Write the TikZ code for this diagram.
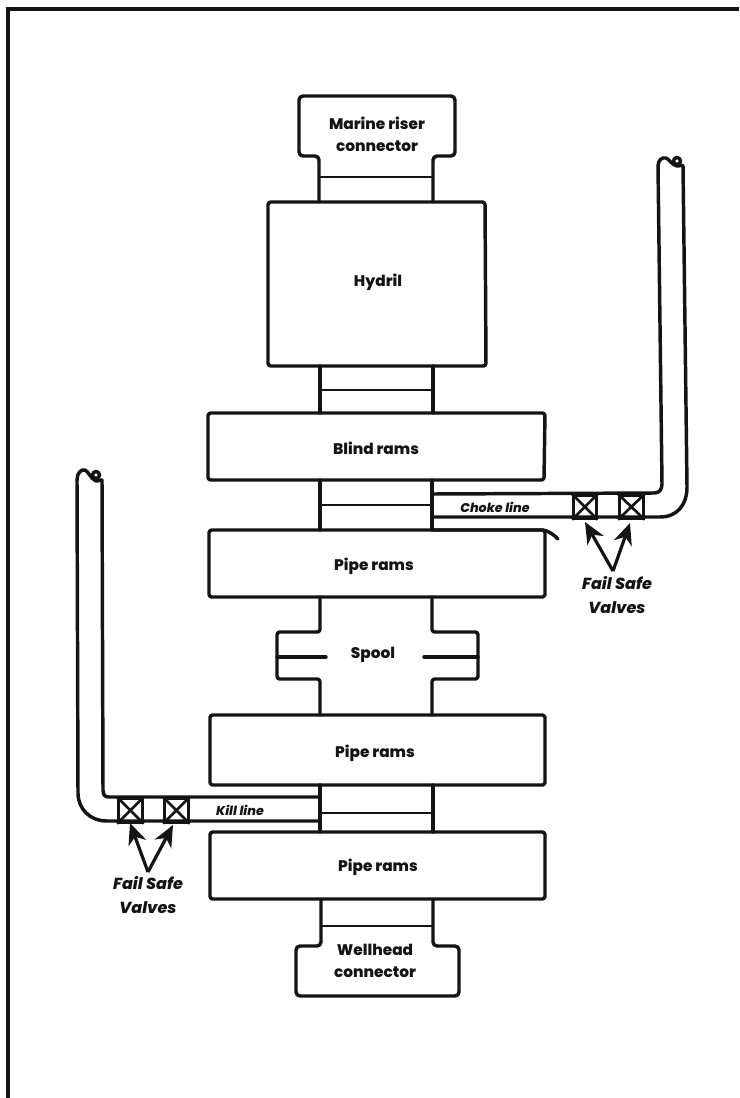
\documentclass[tikz,border=0pt]{standalone}
\usepackage{fontspec}
\setmainfont{Poppins}[BoldFont=Poppins ExtraBold,ItalicFont=Poppins Italic,BoldItalicFont=Poppins ExtraBold Italic]
\usetikzlibrary{arrows.meta}
\tikzset{
  ln/.style={line width=2.6pt,line join=round,line cap=round,black!92},
  thinln/.style={line width=2pt,line join=round,black!92},
  lab/.style={font=\bfseries\fontsize{11.5}{16.5}\selectfont,align=center,inner sep=0pt,text=black!92},
  smalllab/.style={font=\bfseries\itshape\fontsize{9.5}{12}\selectfont,inner sep=0pt,text=black!92},
  fslab/.style={font=\bfseries\itshape\fontsize{12}{18}\selectfont,align=center,inner sep=0pt,text=black!92},
  arr/.style={line width=2.4pt,-{Stealth[length=16pt,width=14pt,inset=5pt]},black!92},
  valvebox/.style={draw=black!92,line width=2pt,inner sep=0pt,anchor=north west}
}
\begin{document}
\begin{tikzpicture}[x=0.75pt,y=-0.75pt]
\useasboundingbox (0,0) rectangle (739,1098);
% frame
\draw[line width=2.6pt,black!92] (8,1098) -- (8,9) -- (739,9);
% marine riser connector
\draw[ln,rounded corners=3pt] (319,202) -- (319,156) -- (299,156) -- (299,96) -- (455,96) -- (455,156) -- (433,156) -- (433,202);
\draw[thinln] (319,177) -- (433,177);
\node[lab] (mrc) at (377,134) {Marine riser\\connector};
% hydril
\draw[ln,rounded corners=2pt] (268,202) -- (485,202) -- (486,366) -- (268,366) -- cycle;
\node[lab] (hy) at (378,282) {Hydril};
% connector hydril - blind rams
\draw[ln] (320,366) -- (320,413);
\draw[ln] (433,366) -- (433,413);
\draw[thinln] (320,390) -- (433,390);
% blind rams
\draw[ln,rounded corners=2pt] (208,413) -- (545,413) -- (544,480) -- (208,480) -- cycle;
\node[lab] (br) at (376,448) {Blind rams};
% connector
\draw[ln] (320,480) -- (320,530);
\draw[ln] (432,480) -- (432,530);
\draw[thinln] (320,505) -- (432,505);
% upper pipe rams
\draw[ln,rounded corners=2pt] (209,530) -- (545,530) -- (545,597) -- (209,597) -- cycle;
\node[lab] (pr1) at (374,566) {Pipe rams};
% spool
\draw[ln,rounded corners=2pt] (320,597) -- (320,632) -- (277,632) -- (277,679) -- (320,679) -- (320,715);
\draw[ln,rounded corners=2pt] (432,597) -- (432,632) -- (478,632) -- (478,679) -- (432,679) -- (432,715);
\draw[ln] (277,657) -- (326,657);
\draw[ln] (424,657) -- (478,657);
\node[lab] (sp) at (373,655) {Spool};
% pipe rams 2
\draw[ln,rounded corners=2pt] (210,715) -- (545,715) -- (545,785) -- (210,785) -- cycle;
\node[lab] (pr2) at (375,753) {Pipe rams};
% connector
\draw[ln] (320,785) -- (320,832);
\draw[ln] (433,785) -- (433,832);
\draw[thinln] (320,813) -- (433,813);
% pipe rams 3
\draw[ln,rounded corners=2pt] (210,832) -- (545,832) -- (545,899) -- (210,899) -- cycle;
\node[lab] (pr3) at (378,867) {Pipe rams};
% wellhead
\draw[ln,rounded corners=3pt] (321,899) -- (321,946) -- (296,946) -- (296,996) -- (459,996) -- (459,946) -- (433,946) -- (433,899);
\draw[thinln] (321,926) -- (433,926);
\node[lab] (wc) at (375,961) {Wellhead\\connector};
% choke line
\draw[ln] (433,494) -- (654,493) .. controls (659,493) and (662,490) .. (662,484) -- (658,166);
\draw[ln] (433,517) -- (660,517) .. controls (677,517) and (687,505) .. (687,487) -- (683,166);
\draw[ln] (658,166) .. controls (658,160) and (662,157) .. (666,158) .. controls (669,159) and (672,165) .. (677,166) .. controls (681,166) and (683,164) .. (683,166);
\draw[ln] (677,161) circle[radius=3.5];
\draw[ln] (433,530) -- (543,530) .. controls (549,531) and (554,535) .. (558,539);
\node[smalllab] (ch) at (495,507) {Choke line};
\node[valvebox,minimum width=17.25pt,minimum height=17.25pt] (v1) at (572,494) {};
\node[valvebox,minimum width=18pt,minimum height=17.25pt] (v2) at (618,494) {};
\draw[thinln] (v1.north west) -- (v1.south east) (v1.north east) -- (v1.south west);
\draw[thinln] (v2.north west) -- (v2.south east) (v2.north east) -- (v2.south west);
\node[fslab] (fs1) at (617,595) {Fail Safe\\Valves};
\coordinate (a) at (613,571);
\coordinate (a1) at (585,522);
\coordinate (a2) at (630,523);
\draw[arr] (a) -- (a1);
\draw[arr] (a) -- (a2);
% kill line
\draw[ln] (320,797) -- (109,797) .. controls (105,797) and (103,795) .. (103,790) -- (102,480);
\draw[ln] (320,821) -- (107,821) .. controls (90,821) and (78,809) .. (78,793) -- (77,480);
\draw[ln] (77,480) .. controls (77,473) and (81,469) .. (85,470) .. controls (88,471) and (91,479) .. (96,481) .. controls (100,481) and (102,479) .. (102,480);
\draw[ln] (96,475) circle[radius=3.5];
\node[smalllab] (kl) at (240,810) {Kill line};
\node[valvebox,minimum width=18pt,minimum height=18pt] (v3) at (117,797) {};
\node[valvebox,minimum width=18pt,minimum height=18pt] (v4) at (163,797) {};
\draw[thinln] (v3.north west) -- (v3.south east) (v3.north east) -- (v3.south west);
\draw[thinln] (v4.north west) -- (v4.south east) (v4.north east) -- (v4.south west);
\node[fslab] (fs2) at (148,895) {Fail Safe\\Valves};
\coordinate (b) at (148,872);
\coordinate (b1) at (130,823);
\coordinate (b2) at (173,825);
\draw[arr] (b) -- (b1);
\draw[arr] (b) -- (b2);
\end{tikzpicture}
\end{document}
